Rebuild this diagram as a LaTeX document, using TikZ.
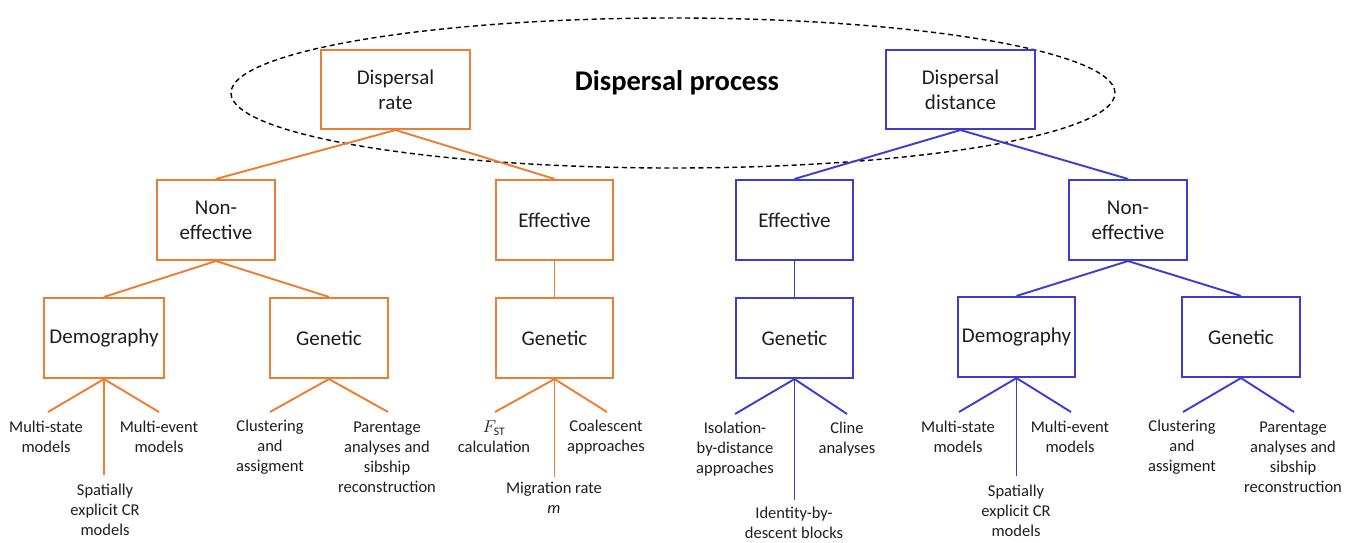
\documentclass[tikz,border=0pt]{standalone}
\usepackage{fontspec}
\setmainfont{Carlito}
\usetikzlibrary{shapes.geometric}
\definecolor{orc}{HTML}{ED7D31}
\definecolor{blc}{HTML}{3C3CD2}
\definecolor{txc}{HTML}{1E1E1E}
\begin{document}
\begin{tikzpicture}[x=1pt,y=-1pt,
  box/.style={draw,line width=2.1pt,inner sep=0pt,align=center,text=txc,font=\fontsize{21}{25}\selectfont,minimum height=80pt},
  obox/.style={box,draw=orc},
  bbox/.style={box,draw=blc},
  leaf/.style={inner sep=0pt,align=center,text=txc,font=\fontsize{16.5}{20}\selectfont},
  oline/.style={draw=orc,line width=1.9pt},
  bline/.style={draw=blc,line width=1.9pt}]
\useasboundingbox (0,0) rectangle (1352,543);
\fill[white] (0,0) rectangle (1352,543);
% ellipse
\node[draw=black,dash pattern=on 5pt off 3.5pt,line width=1.4pt,ellipse,minimum width=884pt,minimum height=150pt,inner sep=0pt] (proc) at (673,93) {};
\node[text=black,font=\fontsize{28.5}{32}\selectfont\bfseries,inner sep=0pt] (title) at (677,83) {Dispersal process};
% top
\node[obox,minimum width=149pt,minimum height=79pt] (rate) at (395.5,89.5) {Dispersal\\rate};
\node[bbox,minimum width=149pt,minimum height=79pt] (dist) at (960.5,89.5) {Dispersal\\distance};
% level 2
\node[obox,minimum width=118pt] (one) at (216,220) {Non-\\effective};
\node[obox,minimum width=117pt] (oeff) at (554.5,220) {Effective};
\node[bbox,minimum width=117pt] (beff) at (794.5,220) {Effective};
\node[bbox,minimum width=118pt] (bne) at (1128,220) {Non-\\effective};
% level 3
\node[obox,minimum width=120pt] (odem) at (104,338) {Demography};
\node[obox,minimum width=118pt] (ogen1) at (329,338) {Genetic};
\node[obox,minimum width=117pt] (ogen2) at (554.5,338) {Genetic};
\node[bbox,minimum width=117pt] (bgen1) at (794.5,338) {Genetic};
\node[bbox,minimum width=117pt] (bdem) at (1016.5,337) {Demography};
\node[bbox,minimum width=118pt] (bgen2) at (1241,337) {Genetic};
% tree connectors
\draw[oline] (rate.south) -- (one.north);
\draw[oline] (rate.south) -- (oeff.north);
\draw[oline] (one.south) -- (odem.north);
\draw[oline] (one.south) -- (ogen1.north);
\draw[oline] (oeff.south) -- (ogen2.north);
\draw[bline] (dist.south) -- (beff.north);
\draw[bline] (dist.south) -- (bne.north);
\draw[bline] (beff.south) -- (bgen1.north);
\draw[bline] (bne.south) -- (bdem.north);
\draw[bline] (bne.south) -- (bgen2.north);
% leaf coordinates
\coordinate (a1) at (48,412);
\coordinate (a2) at (159,412);
\coordinate (a3) at (104,475);
\coordinate (b1) at (270,412);
\coordinate (b2) at (388,412);
\coordinate (c1) at (495,412);
\coordinate (c2) at (607,412);
\coordinate (c3) at (554.5,477);
\coordinate (d1) at (735,414);
\coordinate (d2) at (847,414);
\coordinate (d3) at (794.5,500);
\coordinate (e1) at (959,412);
\coordinate (e2) at (1071,412);
\coordinate (e3) at (1016.5,476);
\coordinate (f1) at (1183,412);
\coordinate (f2) at (1294,412);
\draw[oline] (odem.south) -- (a1);
\draw[oline] (odem.south) -- (a2);
\draw[oline] (odem.south) -- (a3);
\draw[oline] (ogen1.south) -- (b1);
\draw[oline] (ogen1.south) -- (b2);
\draw[oline] (ogen2.south) -- (c1);
\draw[oline] (ogen2.south) -- (c2);
\draw[oline] (ogen2.south) -- (c3);
\draw[bline] (bgen1.south) -- (d1);
\draw[bline] (bgen1.south) -- (d2);
\draw[bline] (bgen1.south) -- (d3);
\draw[bline] (bdem.south) -- (e1);
\draw[bline] (bdem.south) -- (e2);
\draw[bline] (bdem.south) -- (e3);
\draw[bline] (bgen2.south) -- (f1);
\draw[bline] (bgen2.south) -- (f2);
% leaf labels
\node[leaf] (la1) at (46,437) {Multi-state\\models};
\node[leaf] (la2) at (159,437) {Multi-event\\models};
\node[leaf] (la3) at (105,510) {Spatially\\explicit CR\\models};
\node[leaf] (lb1) at (270,447) {Clustering\\and\\assigment};
\node[leaf] (lb2) at (387,457) {Parentage\\analyses and\\sibship\\reconstruction};
\node[leaf] (lc1) at (494,437) {$F_{\mathrm{ST}}$\\calculation};
\node[leaf] (lc2) at (606,437) {Coalescent\\approaches};
\node[leaf] (lc3) at (554,498) {Migration rate\\\textit{m}};
\node[leaf] (ld1) at (735,449) {Isolation-\\by-distance\\approaches};
\node[leaf] (ld2) at (847,439) {Cline\\analyses};
\node[leaf] (ld3) at (794,523) {Identity-by-\\descent blocks};
\node[leaf] (le1) at (958,437) {Multi-state\\models};
\node[leaf] (le2) at (1070,437) {Multi-event\\models};
\node[leaf] (le3) at (1016,511) {Spatially\\explicit CR\\models};
\node[leaf] (lf1) at (1182,447) {Clustering\\and\\assigment};
\node[leaf] (lf2) at (1293,457) {Parentage\\analyses and\\sibship\\reconstruction};
\end{tikzpicture}
\end{document}
